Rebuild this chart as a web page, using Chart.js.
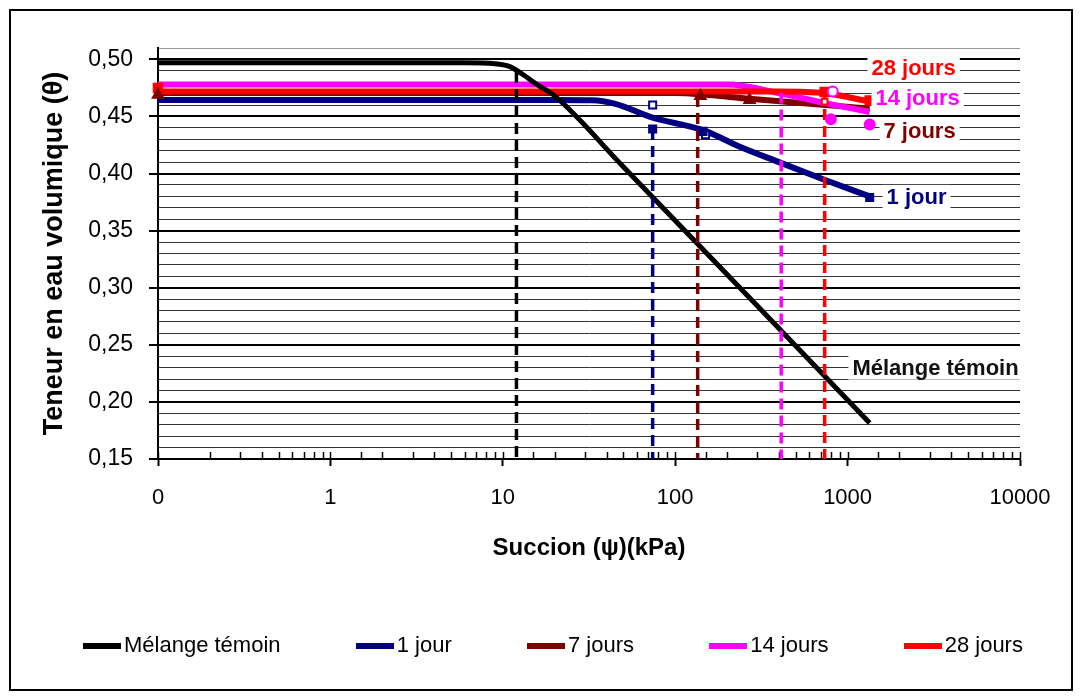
<!doctype html>
<html lang="fr">
<head>
<meta charset="utf-8">
<script src="https://cdn.jsdelivr.net/npm/chart.js"></script>
<style>
  body { margin: 0; background: #fff; }
  .frame { position: absolute; left: 9px; top: 9px; width: 1060px; height: 678px; border: 2px solid #000; }
  .chart-box { position: absolute; left: 0; top: 0; width: 1081px; height: 699px; }
  .legend { position: absolute; left: 83px; top: 632px; width: 940px; display: flex; justify-content: space-between; align-items: center;
            font: 22px "Liberation Sans", Arial, sans-serif; color: #000; }
  .legend .sw { display: inline-block; width: 38px; height: 6px; margin-right: 3px; vertical-align: middle; }
</style>
</head>
<body>
<div class="frame"></div>
<div class="chart-box"><canvas id="swcc"></canvas></div>
<div class="legend" id="legend"></div>

<script>
/*------------ data ------------*/
// fitted curves : suction (kPa) / volumetric water content
const melangeSuction = [0.1, 6, 9, 11, 13, 16, 20, 50, 300, 1343];
const melangeTheta   = [0.497, 0.497, 0.4963, 0.4937, 0.487, 0.4775, 0.468, 0.406, 0.284, 0.1815];

const oneDaySuction  = [0.1, 20, 33, 45, 74, 145, 237, 400, 753, 1343];
const oneDayTheta    = [0.4645, 0.4645, 0.4642, 0.461, 0.449, 0.438, 0.4235, 0.410, 0.394, 0.380];

const sevenDaySuction = [0.1, 100, 140, 270, 750, 1343];
const sevenDayTheta   = [0.4705, 0.4705, 0.4695, 0.4655, 0.460, 0.457];

const fourteenDaySuction = [0.1, 200, 412, 753, 1343];
const fourteenDayTheta   = [0.478, 0.478, 0.470, 0.4615, 0.454];

const twentyEightSuction = [0.1, 400, 736, 1343];
const twentyEightTheta   = [0.472, 0.472, 0.4705, 0.463];

// measured points (markers)
const oneDayMeasSuction = [74, 145, 1343];
const oneDayMeasTheta   = [0.439, 0.437, 0.379];
const oneDayOpenSuction = [74, 150];
const oneDayOpenTheta   = [0.460, 0.434];
const sevenDayMeasSuction = [0.1, 140, 270];
const sevenDayMeasTheta   = [0.469, 0.468, 0.4645];
const fourteenDayMeasSuction = [800, 1343];
const fourteenDayMeasTheta   = [0.4475, 0.443];
const fourteenDayOpenSuction = [820];
const fourteenDayOpenTheta   = [0.472];
const twentyEightMeasSuction = [0.1, 736, 1343];
const twentyEightMeasTheta   = [0.475, 0.4715, 0.464];
const twentyEightOpenSuction = [736];
const twentyEightOpenTheta   = [0.463];

// air entry values (dashed verticals)
const aevSuction = [12, 74, 135, 412, 736];
const aevTheta   = [0.489, 0.439, 0.468, 0.471, 0.4715];

// axis
const thetaMin = 0.15;
const thetaMax = 0.51;
const thetaTicks = [0.15, 0.16, 0.17, 0.18, 0.19, 0.20, 0.21, 0.22, 0.23, 0.24, 0.25, 0.26,
                    0.27, 0.28, 0.29, 0.30, 0.31, 0.32, 0.33, 0.34, 0.35, 0.36, 0.37, 0.38,
                    0.39, 0.40, 0.41, 0.42, 0.43, 0.44, 0.45, 0.46, 0.47, 0.48, 0.49, 0.50, 0.51];

// names / colours
const seriesNames  = ['Mélange témoin', '1 jour', '7 jours', '14 jours', '28 jours'];
const seriesColors = ['#000000', '#000080', '#800000', '#ff00ff', '#ff0000'];

// labels written inside the plot
const calloutText    = ['28 jours', '14 jours', '7 jours', '1 jour', 'Mélange témoin'];
const calloutSuction = [2416, 2547, 2615, 2512, 3236];
const calloutTheta   = [0.4924, 0.4661, 0.4373, 0.3796, 0.2300];
const calloutColors  = ['#ff0000', '#ff00ff', '#800000', '#000080', '#111111'];

const FONT = '"Liberation Sans", Arial, sans-serif';

function pts(xs, ys) { return xs.map((x, i) => ({ x: x, y: ys[i] })); }
function isMajorTheta(v) { return Math.round(v * 100) % 5 === 0; }
function isDecade(v) { const e = Math.log10(v); return Math.abs(e - Math.round(e)) < 1e-9; }

/*------------ datasets ------------*/
const curveData = [
  [melangeSuction, melangeTheta, 2],
  [oneDaySuction, oneDayTheta, 6],
  [sevenDaySuction, sevenDayTheta, 5],
  [fourteenDaySuction, fourteenDayTheta, 4],
  [twentyEightSuction, twentyEightTheta, 3]
];
const datasets = curveData.map((c, i) => ({
  label: seriesNames[i],
  data: pts(c[0], c[1]),
  showLine: true,
  borderColor: seriesColors[i],
  backgroundColor: seriesColors[i],
  borderWidth: i === 0 ? 5 : 6,
  pointRadius: 0,
  cubicInterpolationMode: 'monotone',
  order: c[2]
}));

// dashed verticals
aevSuction.forEach((s, i) => {
  datasets.push({
    label: 'aev' + i,
    data: pts([s, s], [aevTheta[i], thetaMin]),
    showLine: true,
    borderColor: seriesColors[i],
    borderWidth: 3.5,
    borderDash: [11, 6],
    pointRadius: 0,
    order: 1
  });
});

function markers(xs, ys, style, color, fill, radius) {
  return {
    label: 'pts',
    data: pts(xs, ys),
    showLine: false,
    pointStyle: style,
    pointRadius: radius,
    pointBorderWidth: 2,
    pointBorderColor: color,
    pointBackgroundColor: fill,
    clip: false,
    order: 0
  };
}
datasets.push(markers(oneDayMeasSuction, oneDayMeasTheta, 'rect', '#000080', '#000080', 5));
datasets.push(markers(oneDayOpenSuction, oneDayOpenTheta, 'rect', '#000080', '#ffffff', 5));
datasets.push(markers(sevenDayMeasSuction, sevenDayMeasTheta, 'triangle', '#800000', '#800000', 6));
datasets.push(markers(fourteenDayMeasSuction, fourteenDayMeasTheta, 'circle', '#ff00ff', '#ff00ff', 5));
datasets.push(markers(fourteenDayOpenSuction, fourteenDayOpenTheta, 'circle', '#ff00ff', '#ffffff', 5));
datasets.push(markers(twentyEightMeasSuction, twentyEightMeasTheta, 'rect', '#ff0000', '#ff0000', 6));
datasets.push(markers(twentyEightOpenSuction, twentyEightOpenTheta, 'rect', '#ff0000', '#ffffff', 4));

/*------------ small plugins ------------*/
// minor tick marks pointing inside the plot, like Excel
const innerTicks = {
  id: 'innerTicks',
  beforeDatasetsDraw(chart) {
    const sx = chart.scales.x, ctx = chart.ctx, b = chart.chartArea.bottom;
    ctx.save();
    ctx.strokeStyle = '#000';
    ctx.lineWidth = 1.5;
    sx.ticks.forEach(t => {
      const px = Math.round(sx.getPixelForValue(t.value)) + 0.5;
      ctx.beginPath();
      ctx.moveTo(px, b);
      ctx.lineTo(px, b - 7);
      ctx.stroke();
    });
    ctx.restore();
  }
};

// series names written next to the curves
const callouts = {
  id: 'callouts',
  afterDatasetsDraw(chart) {
    const ctx = chart.ctx, sx = chart.scales.x, sy = chart.scales.y;
    ctx.save();
    ctx.font = 'bold 22px ' + FONT;
    ctx.textAlign = 'center';
    ctx.textBaseline = 'middle';
    calloutText.forEach((t, i) => {
      const px = sx.getPixelForValue(calloutSuction[i]);
      const py = sy.getPixelForValue(calloutTheta[i]);
      const w = ctx.measureText(t).width;
      ctx.fillStyle = '#fff';
      ctx.fillRect(px - w / 2 - 4, py - 12, w + 8, 24);
      ctx.fillStyle = calloutColors[i];
      ctx.fillText(t, px, py + 1);
    });
    ctx.restore();
  }
};

/*------------ chart ------------*/
const chart = new Chart(document.getElementById('swcc'), {
  type: 'scatter',
  data: { datasets: datasets },
  plugins: [innerTicks, callouts],
  options: {
    responsive: true,
    maintainAspectRatio: false,
    animation: false,
    events: [],
    layout: { padding: { left: 20, right: 61, top: 48, bottom: 129 } },
    plugins: { legend: { display: false }, tooltip: { enabled: false } },
    scales: {
      x: {
        type: 'logarithmic',
        min: 0.1,
        max: 10000,
        afterFit(scale) { scale.height = 111; },
        border: { display: true, color: '#000', width: 2 },
        grid: {
          drawOnChartArea: false,
          tickLength: 7,
          tickWidth: 2,
          tickColor: c => isDecade(c.tick.value) ? '#000' : 'rgba(0,0,0,0)'
        },
        ticks: {
          autoSkip: false,
          maxRotation: 0,
          padding: 19,
          color: '#000',
          font: { family: FONT, size: 22 },
          callback: v => isDecade(v) ? (v < 1 ? '0' : String(Math.round(v))) : ''
        },
        title: {
          display: true,
          text: 'Succion (ψ)(kPa)',
          color: '#000',
          font: { family: FONT, size: 24, weight: 'bold' },
          padding: { top: 4, bottom: 7 }
        }
      },
      y: {
        min: thetaMin,
        max: thetaMax,
        afterFit(scale) { scale.width = 138; },
        afterBuildTicks(scale) { scale.ticks = thetaTicks.map(v => ({ value: v })); },
        border: { display: true, color: '#000', width: 2 },
        grid: {
          color: c => c.tick.value > 0.505 ? '#9a9a9a' : (isMajorTheta(c.tick.value) ? '#000' : '#333'),
          lineWidth: c => isMajorTheta(c.tick.value) ? 2 : 1,
          tickLength: 9,
          tickWidth: 2,
          tickColor: c => isMajorTheta(c.tick.value) ? '#000' : 'rgba(0,0,0,0)'
        },
        ticks: {
          autoSkip: false,
          padding: 16,
          color: '#000',
          font: { family: FONT, size: 23 },
          callback: v => isMajorTheta(v) && v < 0.505 ? v.toFixed(2).replace('.', ',') : ''
        },
        title: {
          display: true,
          text: 'Teneur en eau volumique (θ)',
          color: '#000',
          font: { family: FONT, size: 27, weight: 'bold' },
          padding: { top: 18, bottom: 0 }
        }
      }
    }
  }
});

/*------------ html legend ------------*/
const legendEl = document.getElementById('legend');
seriesNames.forEach((name, i) => {
  const item = document.createElement('div');
  const sw = document.createElement('span');
  sw.className = 'sw';
  sw.style.background = seriesColors[i];
  item.appendChild(sw);
  item.appendChild(document.createTextNode(name));
  legendEl.appendChild(item);
});
</script>
</body>
</html>
